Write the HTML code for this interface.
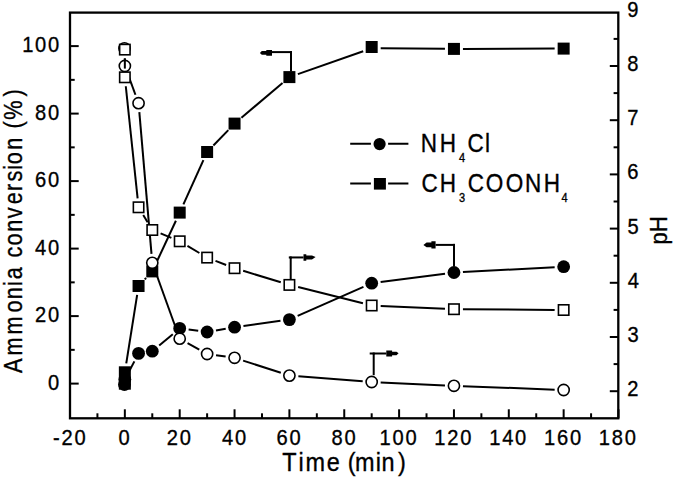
<!DOCTYPE html>
<html><head><meta charset="utf-8"><style>html,body{margin:0;padding:0;background:#fff;}body{width:675px;height:479px;overflow:hidden;font-family:"Liberation Sans",sans-serif;}svg{display:block;}</style></head><body>
<svg width="675" height="479" viewBox="0 0 675 479">
<rect width="675" height="479" fill="#fff"/>
<g stroke="#000" stroke-width="2.0" fill="none">
<line x1="70.00" y1="418.30" x2="70.00" y2="409.30"/>
<line x1="97.42" y1="418.30" x2="97.42" y2="413.30"/>
<line x1="124.85" y1="418.30" x2="124.85" y2="409.30"/>
<line x1="152.28" y1="418.30" x2="152.28" y2="413.30"/>
<line x1="179.70" y1="418.30" x2="179.70" y2="409.30"/>
<line x1="207.12" y1="418.30" x2="207.12" y2="413.30"/>
<line x1="234.55" y1="418.30" x2="234.55" y2="409.30"/>
<line x1="261.98" y1="418.30" x2="261.98" y2="413.30"/>
<line x1="289.40" y1="418.30" x2="289.40" y2="409.30"/>
<line x1="316.83" y1="418.30" x2="316.83" y2="413.30"/>
<line x1="344.25" y1="418.30" x2="344.25" y2="409.30"/>
<line x1="371.68" y1="418.30" x2="371.68" y2="413.30"/>
<line x1="399.10" y1="418.30" x2="399.10" y2="409.30"/>
<line x1="426.52" y1="418.30" x2="426.52" y2="413.30"/>
<line x1="453.95" y1="418.30" x2="453.95" y2="409.30"/>
<line x1="481.38" y1="418.30" x2="481.38" y2="413.30"/>
<line x1="508.80" y1="418.30" x2="508.80" y2="409.30"/>
<line x1="536.23" y1="418.30" x2="536.23" y2="413.30"/>
<line x1="563.65" y1="418.30" x2="563.65" y2="409.30"/>
<line x1="591.08" y1="418.30" x2="591.08" y2="413.30"/>
<line x1="618.50" y1="418.30" x2="618.50" y2="409.30"/>
<line x1="70.00" y1="383.60" x2="78.70" y2="383.60"/>
<line x1="70.00" y1="349.85" x2="74.70" y2="349.85"/>
<line x1="70.00" y1="316.10" x2="78.70" y2="316.10"/>
<line x1="70.00" y1="282.35" x2="74.70" y2="282.35"/>
<line x1="70.00" y1="248.60" x2="78.70" y2="248.60"/>
<line x1="70.00" y1="214.85" x2="74.70" y2="214.85"/>
<line x1="70.00" y1="181.10" x2="78.70" y2="181.10"/>
<line x1="70.00" y1="147.35" x2="74.70" y2="147.35"/>
<line x1="70.00" y1="113.60" x2="78.70" y2="113.60"/>
<line x1="70.00" y1="79.85" x2="74.70" y2="79.85"/>
<line x1="70.00" y1="46.10" x2="78.70" y2="46.10"/>
<line x1="618.30" y1="391.20" x2="609.80" y2="391.20"/>
<line x1="618.30" y1="364.10" x2="613.60" y2="364.10"/>
<line x1="618.30" y1="337.00" x2="609.80" y2="337.00"/>
<line x1="618.30" y1="309.90" x2="613.60" y2="309.90"/>
<line x1="618.30" y1="282.80" x2="609.80" y2="282.80"/>
<line x1="618.30" y1="255.70" x2="613.60" y2="255.70"/>
<line x1="618.30" y1="228.60" x2="609.80" y2="228.60"/>
<line x1="618.30" y1="201.50" x2="613.60" y2="201.50"/>
<line x1="618.30" y1="174.40" x2="609.80" y2="174.40"/>
<line x1="618.30" y1="147.30" x2="613.60" y2="147.30"/>
<line x1="618.30" y1="120.20" x2="609.80" y2="120.20"/>
<line x1="618.30" y1="93.10" x2="613.60" y2="93.10"/>
<line x1="618.30" y1="66.00" x2="609.80" y2="66.00"/>
<line x1="618.30" y1="38.90" x2="613.60" y2="38.90"/>
</g>
<rect x="70.00" y="12.60" width="548.30" height="405.70" fill="none" stroke="#000" stroke-width="2.3"/>
<g stroke="#000" stroke-width="2.0" fill="none">
<line x1="126.26" y1="363.41" x2="137.15" y2="294.89"/>
<line x1="144.72" y1="279.44" x2="146.11" y2="277.96"/>
<line x1="156.08" y1="263.24" x2="175.90" y2="220.76"/>
<line x1="183.41" y1="204.40" x2="203.41" y2="160.20"/>
<line x1="213.38" y1="145.53" x2="228.30" y2="130.07"/>
<line x1="241.42" y1="117.78" x2="282.53" y2="82.92"/>
<line x1="297.89" y1="74.13" x2="363.18" y2="51.27"/>
<line x1="380.67" y1="48.37" x2="444.95" y2="48.83"/>
<line x1="462.95" y1="48.88" x2="554.65" y2="48.62"/>
<line x1="129.04" y1="371.53" x2="134.38" y2="361.37"/>
<line x1="159.20" y1="345.45" x2="172.78" y2="334.15"/>
<line x1="188.62" y1="329.57" x2="198.20" y2="330.83"/>
<line x1="215.99" y1="330.45" x2="225.68" y2="328.75"/>
<line x1="243.46" y1="325.96" x2="280.49" y2="320.84"/>
<line x1="297.63" y1="315.96" x2="363.44" y2="286.84"/>
<line x1="380.60" y1="282.04" x2="445.03" y2="273.66"/>
<line x1="462.94" y1="272.02" x2="554.66" y2="267.18"/>
<line x1="127.96" y1="74.44" x2="135.45" y2="94.76"/>
<line x1="139.33" y1="112.17" x2="151.50" y2="253.83"/>
<line x1="155.33" y1="271.26" x2="176.64" y2="330.24"/>
<line x1="187.56" y1="343.08" x2="199.27" y2="349.62"/>
<line x1="216.04" y1="355.24" x2="225.64" y2="356.56"/>
<line x1="243.11" y1="360.58" x2="280.84" y2="372.82"/>
<line x1="298.37" y1="376.30" x2="362.70" y2="381.30"/>
<line x1="380.67" y1="382.42" x2="444.96" y2="385.38"/>
<line x1="462.94" y1="386.14" x2="554.66" y2="389.66"/>
<line x1="124.85" y1="58.60" x2="124.85" y2="68.30"/>
<line x1="125.79" y1="86.25" x2="137.62" y2="198.35"/>
<line x1="143.22" y1="215.00" x2="147.62" y2="222.30"/>
<line x1="160.60" y1="233.43" x2="171.38" y2="237.87"/>
<line x1="187.44" y1="245.90" x2="199.39" y2="253.00"/>
<line x1="215.52" y1="260.84" x2="226.16" y2="264.96"/>
<line x1="243.16" y1="270.82" x2="280.79" y2="282.28"/>
<line x1="298.13" y1="287.09" x2="362.94" y2="303.31"/>
<line x1="380.67" y1="305.90" x2="444.96" y2="308.80"/>
<line x1="462.95" y1="309.27" x2="554.65" y2="309.93"/>
</g>
<circle cx="124.85" cy="379.50" r="6.40" fill="#000"/>
<circle cx="138.56" cy="353.40" r="6.40" fill="#000"/>
<circle cx="152.28" cy="351.20" r="6.40" fill="#000"/>
<circle cx="179.70" cy="328.40" r="6.40" fill="#000"/>
<circle cx="207.12" cy="332.00" r="6.40" fill="#000"/>
<circle cx="234.55" cy="327.20" r="6.40" fill="#000"/>
<circle cx="289.40" cy="319.60" r="6.40" fill="#000"/>
<circle cx="371.68" cy="283.20" r="6.40" fill="#000"/>
<circle cx="453.95" cy="272.50" r="6.40" fill="#000"/>
<circle cx="563.65" cy="266.70" r="6.40" fill="#000"/>
<circle cx="124.45" cy="384.50" r="6.40" fill="#000"/>
<rect x="118.85" y="366.30" width="12.00" height="12.00" fill="#000"/>
<rect x="132.56" y="280.00" width="12.00" height="12.00" fill="#000"/>
<rect x="146.28" y="265.40" width="12.00" height="12.00" fill="#000"/>
<rect x="173.70" y="206.60" width="12.00" height="12.00" fill="#000"/>
<rect x="201.12" y="146.00" width="12.00" height="12.00" fill="#000"/>
<rect x="228.55" y="117.60" width="12.00" height="12.00" fill="#000"/>
<rect x="283.40" y="71.10" width="12.00" height="12.00" fill="#000"/>
<rect x="365.68" y="41.00" width="12.00" height="12.00" fill="#000"/>
<rect x="447.95" y="42.90" width="12.00" height="12.00" fill="#000"/>
<rect x="557.65" y="42.60" width="12.00" height="12.00" fill="#000"/>
<rect x="118.85" y="377.70" width="12.00" height="12.00" fill="#000"/>
<circle cx="124.45" cy="48.30" r="5.60" fill="#fff" stroke="#000" stroke-width="1.6"/>
<circle cx="124.85" cy="66.00" r="5.60" fill="#fff" stroke="#000" stroke-width="1.6"/>
<circle cx="138.56" cy="103.20" r="5.60" fill="#fff" stroke="#000" stroke-width="1.6"/>
<circle cx="152.28" cy="262.80" r="5.60" fill="#fff" stroke="#000" stroke-width="1.6"/>
<circle cx="179.70" cy="338.70" r="5.60" fill="#fff" stroke="#000" stroke-width="1.6"/>
<circle cx="207.12" cy="354.00" r="5.60" fill="#fff" stroke="#000" stroke-width="1.6"/>
<circle cx="234.55" cy="357.80" r="5.60" fill="#fff" stroke="#000" stroke-width="1.6"/>
<circle cx="289.40" cy="375.60" r="5.60" fill="#fff" stroke="#000" stroke-width="1.6"/>
<circle cx="371.68" cy="382.00" r="5.60" fill="#fff" stroke="#000" stroke-width="1.6"/>
<circle cx="453.95" cy="385.80" r="5.60" fill="#fff" stroke="#000" stroke-width="1.6"/>
<circle cx="563.65" cy="390.00" r="5.60" fill="#fff" stroke="#000" stroke-width="1.6"/>
<rect x="119.65" y="44.40" width="10.40" height="10.40" fill="#fff" stroke="#000" stroke-width="1.6"/>
<rect x="119.65" y="72.10" width="10.40" height="10.40" fill="#fff" stroke="#000" stroke-width="1.6"/>
<rect x="133.36" y="202.10" width="10.40" height="10.40" fill="#fff" stroke="#000" stroke-width="1.6"/>
<rect x="147.08" y="224.80" width="10.40" height="10.40" fill="#fff" stroke="#000" stroke-width="1.6"/>
<rect x="174.50" y="236.10" width="10.40" height="10.40" fill="#fff" stroke="#000" stroke-width="1.6"/>
<rect x="201.93" y="252.40" width="10.40" height="10.40" fill="#fff" stroke="#000" stroke-width="1.6"/>
<rect x="229.35" y="263.00" width="10.40" height="10.40" fill="#fff" stroke="#000" stroke-width="1.6"/>
<rect x="284.20" y="279.70" width="10.40" height="10.40" fill="#fff" stroke="#000" stroke-width="1.6"/>
<rect x="366.48" y="300.30" width="10.40" height="10.40" fill="#fff" stroke="#000" stroke-width="1.6"/>
<rect x="448.75" y="304.00" width="10.40" height="10.40" fill="#fff" stroke="#000" stroke-width="1.6"/>
<rect x="558.45" y="304.80" width="10.40" height="10.40" fill="#fff" stroke="#000" stroke-width="1.6"/>
<line x1="124.85" y1="58.3" x2="124.85" y2="68.6" stroke="#000" stroke-width="2.0"/>
<path d="M291.00,71.50 L291.00,52.10" stroke="#000" stroke-width="2.0" fill="none"/>
<path d="M292.00,52.10 L272.00,52.10" stroke="#000" stroke-width="2.0" fill="none"/>
<rect x="290.00" y="51.10" width="2.0" height="2.0" fill="#000"/>
<polygon points="272.00,50.00 266.30,50.00 266.30,51.10 261.80,51.10 259.90,53.10 261.80,54.70 266.30,54.70 266.30,55.80 272.00,55.80" fill="#000"/>
<path d="M290.70,279.20 L290.70,257.45" stroke="#000" stroke-width="2.0" fill="none"/>
<path d="M288.80,257.45 L303.50,257.45" stroke="#000" stroke-width="2.0" fill="none"/>
<rect x="289.70" y="256.45" width="2.0" height="2.0" fill="#000"/>
<polygon points="303.50,254.25 306.30,254.25 306.30,255.45 312.00,255.45 315.60,256.90 312.00,259.45 306.30,259.45 306.30,260.65 303.50,260.65" fill="#000"/>
<path d="M373.70,375.20 L373.70,353.50" stroke="#000" stroke-width="2.0" fill="none"/>
<path d="M369.70,353.50 L386.30,353.50" stroke="#000" stroke-width="2.0" fill="none"/>
<rect x="372.70" y="352.50" width="2.0" height="2.0" fill="#000"/>
<polygon points="386.30,350.50 392.10,350.50 392.10,351.80 396.50,351.80 398.60,353.30 396.50,355.20 392.10,355.20 392.10,356.50 386.30,356.50" fill="#000"/>
<path d="M454.00,266.50 L454.00,244.90" stroke="#000" stroke-width="2.0" fill="none"/>
<path d="M455.00,244.90 L435.60,244.90" stroke="#000" stroke-width="2.0" fill="none"/>
<rect x="453.00" y="243.90" width="2.0" height="2.0" fill="#000"/>
<polygon points="435.60,241.30 431.40,241.30 431.40,242.50 426.60,242.50 423.40,245.00 426.60,247.30 431.40,247.30 431.40,248.50 435.60,248.50" fill="#000"/>
<line x1="350.2" y1="143.8" x2="408.4" y2="143.8" stroke="#000" stroke-width="2.0"/>
<rect x="370.9" y="139" width="17.2" height="10" fill="#fff"/>
<circle cx="379.6" cy="144.1" r="6.1" fill="#000"/>
<line x1="350.2" y1="183.4" x2="408.4" y2="183.4" stroke="#000" stroke-width="2.0"/>
<rect x="370.9" y="178" width="17.2" height="10" fill="#fff"/>
<rect x="373.9" y="178.0" width="12.0" height="11.6" fill="#000"/>
<text transform="translate(52.91,445.00) scale(0.89,1)" font-family="Liberation Sans, sans-serif" stroke="#000" stroke-width="0.35" font-size="22.6" letter-spacing="2.022">-20</text>
<text transform="translate(118.56,445.00) scale(0.89,1)" font-family="Liberation Sans, sans-serif" stroke="#000" stroke-width="0.35" font-size="22.6" letter-spacing="2.022">0</text>
<text transform="translate(166.80,445.00) scale(0.89,1)" font-family="Liberation Sans, sans-serif" stroke="#000" stroke-width="0.35" font-size="22.6" letter-spacing="2.022">20</text>
<text transform="translate(221.93,445.00) scale(0.89,1)" font-family="Liberation Sans, sans-serif" stroke="#000" stroke-width="0.35" font-size="22.6" letter-spacing="2.022">40</text>
<text transform="translate(276.50,445.00) scale(0.89,1)" font-family="Liberation Sans, sans-serif" stroke="#000" stroke-width="0.35" font-size="22.6" letter-spacing="2.022">60</text>
<text transform="translate(331.42,445.00) scale(0.89,1)" font-family="Liberation Sans, sans-serif" stroke="#000" stroke-width="0.35" font-size="22.6" letter-spacing="2.022">80</text>
<text transform="translate(379.45,445.00) scale(0.89,1)" font-family="Liberation Sans, sans-serif" stroke="#000" stroke-width="0.35" font-size="22.6" letter-spacing="2.022">100</text>
<text transform="translate(434.30,445.00) scale(0.89,1)" font-family="Liberation Sans, sans-serif" stroke="#000" stroke-width="0.35" font-size="22.6" letter-spacing="2.022">120</text>
<text transform="translate(489.15,445.00) scale(0.89,1)" font-family="Liberation Sans, sans-serif" stroke="#000" stroke-width="0.35" font-size="22.6" letter-spacing="2.022">140</text>
<text transform="translate(544.00,445.00) scale(0.89,1)" font-family="Liberation Sans, sans-serif" stroke="#000" stroke-width="0.35" font-size="22.6" letter-spacing="2.022">160</text>
<text transform="translate(598.85,445.00) scale(0.89,1)" font-family="Liberation Sans, sans-serif" stroke="#000" stroke-width="0.35" font-size="22.6" letter-spacing="2.022">180</text>
<text transform="translate(48.10,389.70) scale(0.89,1)" font-family="Liberation Sans, sans-serif" stroke="#000" stroke-width="0.35" font-size="22.6" letter-spacing="2.022">0</text>
<text transform="translate(35.11,322.20) scale(0.89,1)" font-family="Liberation Sans, sans-serif" stroke="#000" stroke-width="0.35" font-size="22.6" letter-spacing="2.022">20</text>
<text transform="translate(35.11,254.70) scale(0.89,1)" font-family="Liberation Sans, sans-serif" stroke="#000" stroke-width="0.35" font-size="22.6" letter-spacing="2.022">40</text>
<text transform="translate(35.11,187.20) scale(0.89,1)" font-family="Liberation Sans, sans-serif" stroke="#000" stroke-width="0.35" font-size="22.6" letter-spacing="2.022">60</text>
<text transform="translate(35.11,119.70) scale(0.89,1)" font-family="Liberation Sans, sans-serif" stroke="#000" stroke-width="0.35" font-size="22.6" letter-spacing="2.022">80</text>
<text transform="translate(22.13,52.20) scale(0.89,1)" font-family="Liberation Sans, sans-serif" stroke="#000" stroke-width="0.35" font-size="22.6" letter-spacing="2.022">100</text>
<text transform="translate(627.19,396.10) scale(0.89,1)" font-family="Liberation Sans, sans-serif" stroke="#000" stroke-width="0.35" font-size="22.6" letter-spacing="2.022">2</text>
<text transform="translate(627.43,341.90) scale(0.89,1)" font-family="Liberation Sans, sans-serif" stroke="#000" stroke-width="0.35" font-size="22.6" letter-spacing="2.022">3</text>
<text transform="translate(627.74,287.70) scale(0.89,1)" font-family="Liberation Sans, sans-serif" stroke="#000" stroke-width="0.35" font-size="22.6" letter-spacing="2.022">4</text>
<text transform="translate(627.39,233.50) scale(0.89,1)" font-family="Liberation Sans, sans-serif" stroke="#000" stroke-width="0.35" font-size="22.6" letter-spacing="2.022">5</text>
<text transform="translate(627.18,179.30) scale(0.89,1)" font-family="Liberation Sans, sans-serif" stroke="#000" stroke-width="0.35" font-size="22.6" letter-spacing="2.022">6</text>
<text transform="translate(627.17,125.10) scale(0.89,1)" font-family="Liberation Sans, sans-serif" stroke="#000" stroke-width="0.35" font-size="22.6" letter-spacing="2.022">7</text>
<text transform="translate(627.33,70.90) scale(0.89,1)" font-family="Liberation Sans, sans-serif" stroke="#000" stroke-width="0.35" font-size="22.6" letter-spacing="2.022">8</text>
<text transform="translate(627.26,16.70) scale(0.89,1)" font-family="Liberation Sans, sans-serif" stroke="#000" stroke-width="0.35" font-size="22.6" letter-spacing="2.022">9</text>
<text transform="scale(0.92,1)" y="470.60" font-family="Liberation Sans, sans-serif" stroke="#000" stroke-width="0.35" font-size="25.5" ><tspan x="306.93" y="470.60" font-size="25.5">T</tspan><tspan x="324.60" y="470.60" font-size="25.5">i</tspan><tspan x="332.00" y="470.60" font-size="25.5">m</tspan><tspan x="355.11" y="470.60" font-size="25.5">e</tspan><tspan x="378.09" y="470.60" font-size="25.5">(</tspan><tspan x="385.92" y="470.60" font-size="25.5">m</tspan><tspan x="408.40" y="470.60" font-size="25.5">i</tspan><tspan x="414.61" y="470.60" font-size="25.5">n</tspan><tspan x="432.57" y="470.60" font-size="25.5">)</tspan></text>
<text transform="translate(21.7,0) rotate(-90) scale(0.85,1)" y="0" font-family="Liberation Sans, sans-serif" stroke="#000" stroke-width="0.35" font-size="25.5"><tspan x="-438.76">A</tspan><tspan x="-418.28">m</tspan><tspan x="-393.58">m</tspan><tspan x="-367.66">o</tspan><tspan x="-352.16">n</tspan><tspan x="-336.53">i</tspan><tspan x="-328.50">a</tspan><tspan x="-303.08">c</tspan><tspan x="-288.84">o</tspan><tspan x="-272.75">n</tspan><tspan x="-256.91">v</tspan><tspan x="-240.26">e</tspan><tspan x="-224.63">r</tspan><tspan x="-213.42">s</tspan><tspan x="-199.71">i</tspan><tspan x="-193.19">o</tspan><tspan x="-176.16">n</tspan><tspan x="-151.11">(</tspan><tspan x="-140.91">%</tspan><tspan x="-113.44">)</tspan></text>
<text transform="translate(666.7,244.5) rotate(-90) scale(0.93,1)" font-family="Liberation Sans, sans-serif" stroke="#000" stroke-width="0.35" font-size="23.5" letter-spacing="0.5" x="0" y="0">pH</text>
<text transform="scale(0.9,1)" y="151.80" font-family="Liberation Sans, sans-serif" stroke="#000" stroke-width="0.35" font-size="25" ><tspan x="467.62" y="151.80" font-size="25">N</tspan><tspan x="488.62" y="151.80" font-size="25">H</tspan><tspan x="509.94" y="161.60" font-size="12.2">4</tspan><tspan x="519.56" y="151.80" font-size="25">C</tspan><tspan x="538.87" y="151.80" font-size="25">l</tspan></text>
<text transform="scale(0.9,1)" y="191.60" font-family="Liberation Sans, sans-serif" stroke="#000" stroke-width="0.35" font-size="25" ><tspan x="468.29" y="191.60" font-size="25">C</tspan><tspan x="488.62" y="191.60" font-size="25">H</tspan><tspan x="509.98" y="201.80" font-size="12.2">3</tspan><tspan x="519.73" y="191.60" font-size="25">C</tspan><tspan x="539.70" y="191.60" font-size="25">O</tspan><tspan x="561.93" y="191.60" font-size="25">O</tspan><tspan x="583.28" y="191.60" font-size="25">N</tspan><tspan x="604.06" y="191.60" font-size="25">H</tspan><tspan x="623.83" y="201.60" font-size="12.2">4</tspan></text>
</svg>
</body></html>
